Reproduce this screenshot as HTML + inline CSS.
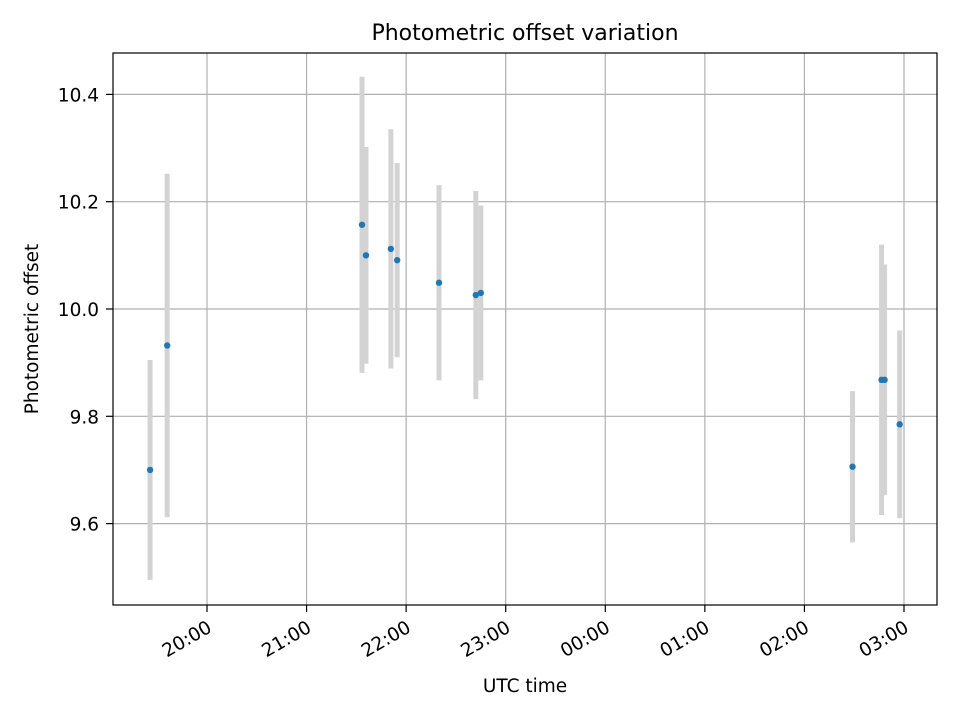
<!DOCTYPE html>
<html><head><meta charset="utf-8"><style>
body{margin:0;background:#fff;}
svg text{font-family:"DejaVu Sans","Liberation Sans",sans-serif;fill:#000;}
</style></head><body>
<svg id="chart" width="960" height="720" xmlns="http://www.w3.org/2000/svg">
<rect width="960" height="720" fill="#fff"/>
<text x="525" y="40" font-size="22" text-anchor="middle">Photometric offset variation</text>
<g id="grid"></g>
<g id="bars"></g>
<g id="pts"></g>
<rect x="113" y="53" width="824" height="552" fill="none" stroke="#000" stroke-width="1.2"/>
<g id="axes"></g>
<text x="525" y="692" font-size="18.5" text-anchor="middle">UTC time</text>
<text transform="translate(38,329) rotate(-90)" font-size="18.5" text-anchor="middle">Photometric offset</text>
</svg>
<script>
// times in minutes after 19:00 UTC
const times=[25.7,36,153.4,155.8,170.8,174.6,199.8,222,225,449,466.5,468.3,477.4];
const offsets=[9.700,9.932,10.157,10.100,10.112,10.091,10.049,10.026,10.030,9.706,9.868,9.868,9.785];
const errors=[0.205,0.320,0.276,0.202,0.223,0.181,0.182,0.194,0.163,0.141,0.252,0.215,0.175];
const xTickLabels=["20:00","21:00","22:00","23:00","00:00","01:00","02:00","03:00"];
const yTicks=[9.6,9.8,10.0,10.2,10.4];

const NS="http://www.w3.org/2000/svg";
function xs(m){return 207+(m-60)*99.57/60;}
function ys(v){return 309-(v-10)*536.5;}
function mk(tag,attrs,parent){const e=document.createElementNS(NS,tag);for(const k in attrs)e.setAttribute(k,attrs[k]);document.getElementById(parent).appendChild(e);return e;}

xTickLabels.forEach((lab,i)=>{
  const x=xs(60+i*60);
  const g=mk('line',{x1:x,x2:x,y1:53,y2:605,stroke:'#b0b0b0','stroke-width':1.2},'grid');
  
  
  const t=mk('line',{x1:x,x2:x,y1:605,y2:612,stroke:'#000','stroke-width':1.2},'axes');
  
  
  const tx=mk('text',{'font-size':18.5,'text-anchor':'end',transform:`translate(${x+6},${631}) rotate(-30)`},'axes');
  tx.textContent=lab;
  
  
});
yTicks.forEach(v=>{
  const y=ys(v);
  const g=mk('line',{x1:113,x2:937,y1:y,y2:y,stroke:'#b0b0b0','stroke-width':1.2},'grid');
  
  
  const t=mk('line',{x1:106,x2:113,y1:y,y2:y,stroke:'#000','stroke-width':1.2},'axes');
  
  
  const tx=mk('text',{x:99,y:y+7,'font-size':18.5,'text-anchor':'end'},'axes');
  tx.textContent=v.toFixed(1);
  
  
});
times.forEach((m,i)=>{
  const x=xs(m);
  const b=mk('line',{x1:x,x2:x,y1:ys(offsets[i]+errors[i]),y2:ys(offsets[i]-errors[i]),stroke:'#d3d3d3','stroke-width':5},'bars');
  
  
  const c=mk('circle',{cx:x,cy:ys(offsets[i]),r:3.2,fill:'#1f77b4'},'pts');
  
  
});
</script>
</body></html>
